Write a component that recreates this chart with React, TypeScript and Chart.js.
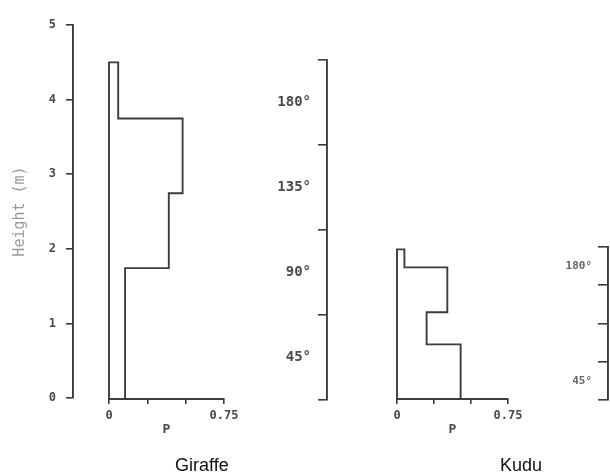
import React, { useEffect, useRef } from "react";
import { Chart, registerables } from "chart.js";

Chart.register(...registerables);

// ---- data ----
const heightMin = 0;
const heightMax = 5;
const heightStep = 1;
const pMin = 0;
const pMax = 0.75;
const pStep = 0.25;
const pLabelled = [0, 0.75];

// height bands (m) and proportion P of browsing in each band
const giraffeBandEdges = [0, 1.75, 2.75, 3.75, 4.5];
const giraffeP = [0.105, 0.39, 0.48, 0.06];
const kuduBandEdges = [0, 0.73, 1.16, 1.76, 2.0];
const kuduP = [0.43, 0.2, 0.34, 0.05];

const angleLabels = ["180°", "135°", "90°", "45°"];
const rightAngleLabels = ["180°", "", "", "45°"];

const groupNames = ["Giraffe", "Kudu"];

// ---- style ----
const INK = "#3c3c3c";
const TEXT = "#4a4a4a";
const MONO = "'DejaVu Sans Mono', monospace";
const LW = 1.9;

function outline(edges: number[], p: number[]) {
  const pts: { x: number; y: number }[] = [{ x: 0, y: edges[0] }];
  for (let i = 0; i < p.length; i++) {
    pts.push({ x: p[i], y: edges[i] });
    pts.push({ x: p[i], y: edges[i + 1] });
  }
  pts.push({ x: 0, y: edges[edges.length - 1] });
  pts.push({ x: 0, y: edges[0] });
  return pts;
}

const basePlugins = {
  legend: { display: false },
  tooltip: { enabled: false },
  title: { display: false },
};

const hiddenX = { type: "linear", display: false, min: 0, max: 1 };
const hiddenY = { type: "linear", display: false, min: heightMin, max: heightMax };

function histConfig(edges: number[], p: number[], padL: number, padR: number) {
  return {
    type: "line",
    data: {
      datasets: [
        {
          data: outline(edges, p),
          borderColor: INK,
          borderWidth: LW,
          pointRadius: 0,
          tension: 0,
          fill: false,
          clip: false,
        },
      ],
    },
    options: {
      responsive: false,
      animation: false,
      events: [],
      layout: { padding: { left: padL, right: padR, top: 25, bottom: 35 } },
      plugins: basePlugins,
      scales: {
        x: {
          type: "linear",
          min: pMin,
          max: pMax,
          afterFit: (s: any) => {
            s.height = 38;
          },
          ticks: {
            stepSize: pStep,
            color: TEXT,
            font: { family: MONO, size: 12, weight: "bold" },
            padding: 5,
            maxRotation: 0,
            autoSkip: false,
            callback: (v: number) => (pLabelled.some((q) => Math.abs(q - v) < 1e-9) ? String(v) : ""),
          },
          grid: { display: true, drawOnChartArea: false, drawTicks: true, tickLength: 5, color: INK, lineWidth: 1.6 },
          border: { display: true, color: INK, width: LW },
          title: { display: true, text: "P", color: TEXT, font: { family: MONO, size: 13, weight: "bold" }, padding: 0 },
        },
        y: hiddenY,
      },
    },
  };
}

const heightAxisConfig = {
  type: "line",
  data: { datasets: [] },
  options: {
    responsive: false,
    animation: false,
    events: [],
    layout: { padding: { left: 0, right: 0, top: 25, bottom: 74 } },
    plugins: basePlugins,
    scales: {
      x: hiddenX,
      y: {
        type: "linear",
        min: heightMin,
        max: heightMax,
        afterFit: (s: any) => {
          s.width = 73;
        },
        ticks: { stepSize: heightStep, color: TEXT, font: { family: MONO, size: 12, weight: "bold" }, padding: 10 },
        grid: { display: true, drawOnChartArea: false, drawTicks: true, tickLength: 7, color: INK, lineWidth: 1.6 },
        border: { display: true, color: INK, width: LW },
        title: {
          display: true,
          text: "Height (m)",
          color: "#9a9a9a",
          font: { family: MONO, size: 15 },
          padding: { top: 11, bottom: 0 },
        },
      },
    },
  },
};

function angleAxisConfig(labels: string[], width: number, top: number, tickLen: number, fontSize: number, pad: number, color: string) {
  return {
    type: "line",
    data: { datasets: [] },
    options: {
      responsive: false,
      animation: false,
      events: [],
      layout: { padding: { left: 0, right: 0, top, bottom: 72 } },
      plugins: basePlugins,
      scales: {
        x: hiddenX,
        y: {
          type: "category",
          labels,
          offset: true,
          afterFit: (s: any) => {
            s.width = width;
          },
          ticks: { color, font: { family: MONO, size: fontSize, weight: "bold" }, padding: pad, autoSkip: false },
          grid: {
            display: true,
            offset: true,
            drawOnChartArea: false,
            drawTicks: true,
            tickLength: tickLen,
            color: INK,
            lineWidth: 1.6,
          },
          border: { display: true, color: INK, width: LW },
        },
      },
    },
  };
}

function ChartCanvas(props: { left: number; top: number; width: number; height: number; config: any }) {
  const ref = useRef<HTMLCanvasElement | null>(null);
  useEffect(() => {
    if (!ref.current) return;
    const chart = new Chart(ref.current, props.config);
    return () => chart.destroy();
  }, []);
  return (
    <canvas
      ref={ref}
      width={props.width}
      height={props.height}
      style={{
        position: "absolute",
        left: props.left,
        top: props.top,
        width: props.width,
        height: props.height,
        display: "block",
      }}
    />
  );
}

const labelStyle: React.CSSProperties = {
  position: "absolute",
  top: 456,
  fontFamily: "'Liberation Sans', Arial, sans-serif",
  fontSize: 18,
  lineHeight: "18px",
  color: "#111",
  whiteSpace: "nowrap",
};

export default function App() {
  return (
    <div
      style={{
        position: "absolute",
        left: 0,
        top: 0,
        width: 610,
        height: 472,
        overflow: "hidden",
        background: "#fff",
      }}
    >
      <ChartCanvas left={0} top={0} width={80} height={472} config={heightAxisConfig} />
      <ChartCanvas left={90} top={0} width={160} height={472} config={histConfig(giraffeBandEdges, giraffeP, 19, 26)} />
      <ChartCanvas left={250} top={0} width={90} height={472} config={angleAxisConfig(angleLabels, 77, 60, 9, 14, 7, TEXT)} />
      <ChartCanvas left={380} top={0} width={160} height={472} config={histConfig(kuduBandEdges, kuduP, 17, 32)} />
      <ChartCanvas left={540} top={0} width={70} height={472} config={angleAxisConfig(rightAngleLabels, 68, 247, 10, 11, 6, "#666")} />
      <div style={{ ...labelStyle, left: 175 }}>{groupNames[0]}</div>
      <div style={{ ...labelStyle, left: 500 }}>{groupNames[1]}</div>
    </div>
  );
}
